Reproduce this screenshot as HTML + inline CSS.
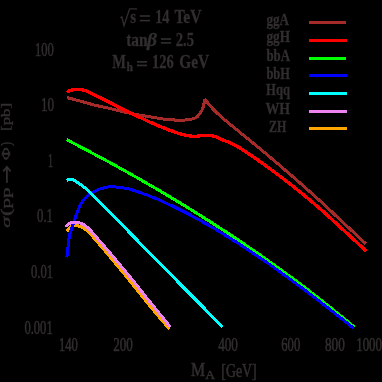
<!DOCTYPE html>
<html><head><meta charset="utf-8"><style>
html,body{margin:0;padding:0;background:#000;width:382px;height:382px;overflow:hidden}
svg{position:absolute;left:0;top:0;will-change:transform}
text{font-family:"Liberation Serif",serif;fill:#322e2e;font-weight:bold;stroke:#322e2e;stroke-width:0.3px}
text.n{font-weight:normal;stroke-width:0.55px}
</style></head><body>
<svg width="382" height="382" viewBox="0 0 382 382">
<rect width="382" height="382" fill="#000"/>
<text x="35.00" y="56.00" font-size="18.50" text-anchor="start" textLength="18.90" lengthAdjust="spacingAndGlyphs" class="n">100</text>
<text x="41.00" y="111.30" font-size="18.50" text-anchor="start" textLength="13.10" lengthAdjust="spacingAndGlyphs" class="n">10</text>
<text x="48.00" y="166.60" font-size="18.50" text-anchor="start" textLength="5.00" lengthAdjust="spacingAndGlyphs" class="n">1</text>
<text x="37.00" y="222.00" font-size="18.50" text-anchor="start" textLength="16.00" lengthAdjust="spacingAndGlyphs" class="n">0.1</text>
<text x="31.00" y="277.60" font-size="18.50" text-anchor="start" textLength="22.00" lengthAdjust="spacingAndGlyphs" class="n">0.01</text>
<text x="24.40" y="333.50" font-size="18.50" text-anchor="start" textLength="28.30" lengthAdjust="spacingAndGlyphs" class="n">0.001</text>
<text x="59.00" y="350.50" font-size="18.50" text-anchor="start" textLength="18.90" lengthAdjust="spacingAndGlyphs" class="n">140</text>
<text x="113.20" y="350.50" font-size="18.50" text-anchor="start" textLength="19.70" lengthAdjust="spacingAndGlyphs" class="n">200</text>
<text x="218.20" y="350.50" font-size="18.50" text-anchor="start" textLength="19.70" lengthAdjust="spacingAndGlyphs" class="n">400</text>
<text x="281.30" y="350.50" font-size="18.50" text-anchor="start" textLength="18.90" lengthAdjust="spacingAndGlyphs" class="n">600</text>
<text x="325.00" y="350.50" font-size="18.50" text-anchor="start" textLength="19.80" lengthAdjust="spacingAndGlyphs" class="n">800</text>
<text x="356.20" y="350.50" font-size="18.50" text-anchor="start" textLength="25.80" lengthAdjust="spacingAndGlyphs" class="n">1000</text>
<path d="M120.4,17.8 L121.8,16.9 L124.0,25.6 L129.6,8.9 L137,8.9" stroke="#322e2e" stroke-width="1.3" fill="none"/>
<text x="130.20" y="22.70" font-size="18.50" text-anchor="start" textLength="5.80" lengthAdjust="spacingAndGlyphs">s</text>
<rect x="139.8" y="15.2" width="10.2" height="1.6" fill="#322e2e"/><rect x="139.8" y="19.8" width="10.2" height="1.6" fill="#322e2e"/>
<text x="155.20" y="22.70" font-size="18.50" text-anchor="start" textLength="14.20" lengthAdjust="spacingAndGlyphs">14</text>
<text x="174.40" y="22.70" font-size="18.50" text-anchor="start" textLength="27.10" lengthAdjust="spacingAndGlyphs">TeV</text>
<text x="126.20" y="45.90" font-size="18.50" text-anchor="start" textLength="21.50" lengthAdjust="spacingAndGlyphs">tan</text>
<text x="147.10" y="45.90" font-size="18.50" text-anchor="start" textLength="10.00" lengthAdjust="spacingAndGlyphs" font-style="italic">β</text>
<rect x="160.9" y="38.2" width="10.2" height="1.6" fill="#322e2e"/><rect x="160.9" y="42.1" width="10.2" height="1.6" fill="#322e2e"/>
<text x="175.80" y="45.90" font-size="18.50" text-anchor="start" textLength="18.30" lengthAdjust="spacingAndGlyphs">2.5</text>
<text x="112.20" y="68.00" font-size="18.50" text-anchor="start" textLength="13.70" lengthAdjust="spacingAndGlyphs">M</text>
<text x="126.60" y="70.80" font-size="11.50" text-anchor="start" textLength="6.50" lengthAdjust="spacingAndGlyphs">h</text>
<rect x="137.0" y="61.0" width="10.1" height="1.7" fill="#322e2e"/><rect x="137.0" y="64.6" width="10.1" height="1.7" fill="#322e2e"/>
<text x="152.10" y="68.00" font-size="18.50" text-anchor="start" textLength="21.70" lengthAdjust="spacingAndGlyphs">126</text>
<text x="179.30" y="68.00" font-size="18.50" text-anchor="start" textLength="29.90" lengthAdjust="spacingAndGlyphs">GeV</text>
<text x="266.40" y="24.60" font-size="15.80" text-anchor="start" textLength="22.60" lengthAdjust="spacingAndGlyphs">ggA</text>
<text x="266.40" y="41.60" font-size="15.80" text-anchor="start" textLength="23.60" lengthAdjust="spacingAndGlyphs">ggH</text>
<text x="266.40" y="61.10" font-size="15.80" text-anchor="start" textLength="23.60" lengthAdjust="spacingAndGlyphs">bbA</text>
<text x="266.40" y="78.50" font-size="15.80" text-anchor="start" textLength="23.60" lengthAdjust="spacingAndGlyphs">bbH</text>
<text x="266.00" y="94.60" font-size="15.80" text-anchor="start" textLength="24.00" lengthAdjust="spacingAndGlyphs">Hqq</text>
<text x="265.40" y="114.00" font-size="15.80" text-anchor="start" textLength="24.60" lengthAdjust="spacingAndGlyphs">WH</text>
<text x="269.10" y="131.80" font-size="15.80" text-anchor="start" textLength="17.30" lengthAdjust="spacingAndGlyphs">ZH</text>
<text x="191.10" y="376.20" font-size="18.50" text-anchor="start" textLength="14.10" lengthAdjust="spacingAndGlyphs" class="n">M</text>
<text x="205.20" y="379.40" font-size="13.00" text-anchor="start" textLength="9.80" lengthAdjust="spacingAndGlyphs" class="n">A</text>
<text x="221.30" y="376.60" font-size="18.50" text-anchor="start" textLength="35.40" lengthAdjust="spacingAndGlyphs" class="n">[GeV]</text>
<text transform="translate(10.00,227.70) rotate(-90) scale(1,0.700)" x="0" y="0" font-size="18.50" textLength="10.90" lengthAdjust="spacingAndGlyphs" class="n" font-style="italic">σ</text>
<text transform="translate(10.50,216.00) rotate(-90) scale(1,0.820)" x="0" y="0" font-size="18.50" textLength="7.40" lengthAdjust="spacingAndGlyphs" class="n">(</text>
<text transform="translate(10.00,208.40) rotate(-90) scale(1,0.700)" x="0" y="0" font-size="18.50" textLength="20.90" lengthAdjust="spacingAndGlyphs" class="n">pp</text>
<path d="M6.9,182.7 V167.2 M3.2,171.3 L6.9,167.0 L10.6,171.3" stroke="#322e2e" stroke-width="1.8" fill="none"/>
<text transform="translate(10.00,159.90) rotate(-90) scale(1,0.700)" x="0" y="0" font-size="18.50" textLength="12.60" lengthAdjust="spacingAndGlyphs" class="n">Φ</text>
<text transform="translate(10.50,145.70) rotate(-90) scale(1,0.820)" x="0" y="0" font-size="18.50" textLength="3.90" lengthAdjust="spacingAndGlyphs" class="n">)</text>
<text transform="translate(10.00,131.00) rotate(-90) scale(1,0.700)" x="0" y="0" font-size="18.50" textLength="28.20" lengthAdjust="spacingAndGlyphs" class="n">[pb]</text>

<rect x="309" y="21" width="37" height="3" fill="#a52a2a"/><rect x="309" y="39" width="38" height="3" fill="#ff0000"/><rect x="309" y="57" width="37" height="3" fill="#00ff00"/><rect x="309" y="74" width="38" height="3" fill="#0000ff"/><rect x="309" y="92" width="38" height="3" fill="#00ffff"/><rect x="309" y="110" width="38" height="3" fill="#ee82ee"/><rect x="309" y="127" width="38" height="3" fill="#ffa500"/>
<path d="M67.00,97.60 C71.33,98.70 75.67,99.83 80.00,101.00 C85.00,102.35 90.00,103.97 95.00,105.20 C100.00,106.43 105.00,107.32 110.00,108.50 C113.33,109.28 116.67,110.22 120.00,111.00 C125.33,112.25 130.67,113.48 136.00,114.50 C141.33,115.52 146.67,116.35 152.00,117.20 C157.33,118.05 162.67,119.21 168.00,119.60 C172.00,119.89 176.00,120.20 180.00,120.20 C183.33,120.20 186.67,119.90 190.00,119.50 C192.00,119.26 194.00,118.68 196.00,117.70 C197.50,116.97 199.00,114.85 200.50,112.60 C201.33,111.35 202.17,109.88 203.00,107.50 C203.40,106.36 203.80,104.72 204.20,102.50 C204.37,101.58 204.53,100.19 204.70,98.80" stroke="#a52a2a" stroke-width="3.0" fill="none" stroke-linejoin="round" shape-rendering="crispEdges"/><path d="M204.70,98.80 C206.47,101.24 208.23,103.54 210.00,105.60 C212.27,108.24 214.53,110.61 216.80,112.80 C219.87,115.76 222.93,118.29 226.00,120.90 C230.67,124.88 235.33,128.60 240.00,132.40 C243.33,135.12 246.67,137.77 250.00,140.50 C255.00,144.59 260.00,148.72 265.00,152.90 C270.00,157.08 275.00,161.31 280.00,165.60 C286.67,171.32 293.33,177.12 300.00,183.00 C306.67,188.88 313.33,194.80 320.00,200.90 C326.67,207.00 333.33,213.36 340.00,219.60 C348.53,227.59 357.07,235.59 365.60,243.60" stroke="#a52a2a" stroke-width="3.0" fill="none" stroke-linejoin="round" shape-rendering="crispEdges"/><path d="M66.80,92.50 C67.87,91.65 68.93,90.81 70.00,90.50 C71.67,90.01 73.33,89.60 75.00,89.60 C76.67,89.60 78.33,89.60 80.00,89.60 C82.00,89.60 84.00,90.24 86.00,90.80 C88.50,91.50 91.00,93.28 93.50,94.50 C99.10,97.23 104.70,99.69 110.30,102.60 C113.53,104.28 116.77,106.34 120.00,108.00 C125.33,110.73 130.67,113.00 136.00,115.50 C141.33,118.00 146.67,120.66 152.00,123.00 C157.33,125.34 162.67,127.66 168.00,129.60 C173.33,131.54 178.67,133.58 184.00,134.80 C186.33,135.33 188.67,135.95 191.00,136.10 C192.67,136.21 194.33,136.30 196.00,136.30 C197.67,136.30 199.33,135.80 201.00,135.70 C203.67,135.54 206.33,135.40 209.00,135.40 C211.00,135.40 213.00,135.97 215.00,136.50 C217.00,137.03 219.00,138.47 221.00,139.30 C223.33,140.27 225.67,140.91 228.00,141.90 C232.00,143.60 236.00,145.77 240.00,148.10 C243.33,150.04 246.67,152.45 250.00,154.70 C255.00,158.08 260.00,161.52 265.00,165.10 C270.00,168.68 275.00,172.40 280.00,176.20 C286.67,181.27 293.33,186.49 300.00,191.90 C306.67,197.31 313.33,202.88 320.00,208.70 C326.67,214.52 333.33,220.80 340.00,226.90 C348.77,234.92 357.53,242.98 366.30,251.10" stroke="#ff0000" stroke-width="3.3" fill="none" stroke-linejoin="round" shape-rendering="crispEdges"/><path d="M66.70,139.70 C71.13,141.98 75.57,144.28 80.00,146.60 C86.67,150.09 93.33,153.62 100.00,157.20 C108.00,161.50 116.00,165.84 124.00,170.30 C132.67,175.13 141.33,180.07 150.00,185.10 C161.33,191.68 172.67,198.37 184.00,205.30 C196.00,212.64 208.00,220.19 220.00,228.00 C233.33,236.67 246.67,245.60 260.00,254.90 C273.33,264.20 286.67,273.88 300.00,283.90 C310.00,291.41 320.00,299.24 330.00,307.20 C338.13,313.68 346.27,320.32 354.40,327.10" stroke="#00ff00" stroke-width="3" fill="none" stroke-linejoin="round" shape-rendering="crispEdges"/><path d="M66.90,231.50 C67.43,230.43 67.97,229.43 68.50,228.80 C69.33,227.81 70.17,226.89 71.00,226.60 C72.67,226.02 74.33,225.60 76.00,225.60 C77.67,225.60 79.33,226.16 81.00,226.70 C83.33,227.46 85.67,229.53 88.00,231.50 C90.67,233.75 93.33,237.35 96.00,240.40 C107.33,253.36 118.67,267.13 130.00,281.00 C136.67,289.16 143.33,297.91 150.00,306.00 C156.50,313.89 163.00,321.56 169.50,329.00" stroke="#ffa500" stroke-width="3" fill="none" stroke-linejoin="round" shape-rendering="crispEdges"/><path d="M66.90,257.50 C67.10,255.51 67.30,253.57 67.50,251.70 C67.73,249.52 67.97,247.37 68.20,245.40 C68.60,242.03 69.00,237.91 69.40,236.00 C70.47,230.90 71.53,229.28 72.60,226.00 C73.70,222.62 74.80,218.98 75.90,216.00 C77.47,211.75 79.03,207.41 80.60,204.60 C82.07,201.97 83.53,199.89 85.00,198.30 C86.73,196.42 88.47,194.89 90.20,193.80 C94.10,191.36 98.00,189.46 101.90,188.40 C104.77,187.62 107.63,186.70 110.50,186.70 C115.00,186.70 119.50,187.37 124.00,188.00 C132.67,189.21 141.33,192.99 150.00,196.20 C161.33,200.40 172.67,206.08 184.00,211.80 C196.00,217.85 208.00,224.81 220.00,232.00 C233.33,239.99 246.67,248.74 260.00,257.80 C273.33,266.86 286.67,276.60 300.00,286.50 C310.00,293.92 320.00,301.72 330.00,309.50 C337.87,315.62 345.73,321.83 353.60,328.10" stroke="#0000ff" stroke-width="3" fill="none" stroke-linejoin="round" shape-rendering="crispEdges"/><path d="M66.60,180.30 C68.30,179.42 70.00,179.40 71.70,179.40 C73.40,179.40 75.10,181.00 76.80,182.00 C79.57,183.63 82.33,185.77 85.10,188.00 C87.07,189.59 89.03,191.45 91.00,193.30 C102.00,203.64 113.00,215.60 124.00,226.80 C134.67,237.66 145.33,248.62 156.00,259.50 C165.33,269.02 174.67,278.56 184.00,288.00 C196.90,301.05 209.80,314.03 222.70,326.90" stroke="#00ffff" stroke-width="3" fill="none" stroke-linejoin="round" shape-rendering="crispEdges"/><path d="M66.10,226.90 C66.73,225.92 67.37,224.99 68.00,224.50 C69.00,223.73 70.00,223.13 71.00,222.90 C72.67,222.51 74.33,222.20 76.00,222.20 C77.67,222.20 79.33,222.70 81.00,223.20 C83.33,223.90 85.67,226.04 88.00,228.00 C90.67,230.24 93.33,233.78 96.00,236.80 C107.33,249.62 118.67,263.19 130.00,277.00 C136.67,285.12 143.33,293.75 150.00,302.00 C156.80,310.42 163.60,318.75 170.40,327.00" stroke="#ee82ee" stroke-width="3" fill="none" stroke-linejoin="round" shape-rendering="crispEdges"/>
</svg>
</body></html>
